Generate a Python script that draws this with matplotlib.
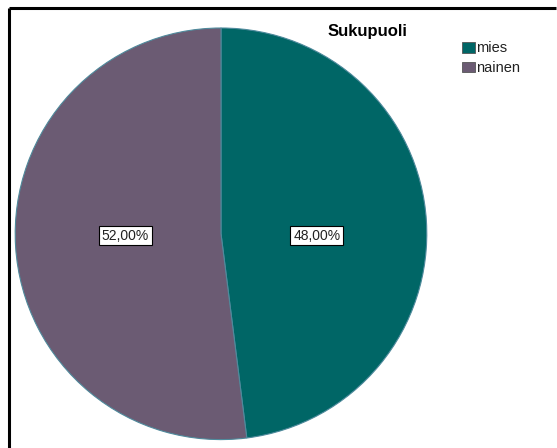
import numpy as np
import matplotlib.pyplot as plt
from matplotlib.patches import Rectangle

# gender split
categories = ['mies', 'nainen']
shares = [48.00, 52.00]
colors = ['#006666', '#6b5b73']
title = 'Sukupuoli'

plt.rcParams['font.family'] = ['Liberation Sans', 'DejaVu Sans']

fig = plt.figure(figsize=(5.57, 4.48), dpi=100)
fig.patch.set_facecolor('white')

# axes in pixel coordinates, y pointing down
ax = fig.add_axes([0, 0, 1, 1])

cx, cy, r = 221, 233.8, 205.8
# y axis is inverted later, so startangle=-90 is the top and
# counterclock=True runs clockwise on screen
wedges, _ = ax.pie(shares, colors=colors, startangle=-90, counterclock=True,
                   center=(cx, cy), radius=r, frame=True,
                   wedgeprops=dict(edgecolor='#4f8a9c', linewidth=0.8))
ax.set_xlim(0, 557)
ax.set_ylim(448, 0)
ax.set_aspect('equal')
ax.axis('off')

# frame: top and left lines only
ax.plot([8.5, 556], [8, 8], color='black', lw=2.2, solid_capstyle='butt')
ax.plot([8.5, 8.5], [8, 448], color='black', lw=2.2, solid_capstyle='butt')

# percentage labels in white boxes
start = 0.0
for val in shares:
    mid = np.deg2rad(90 - (start + val / 2) / 100 * 360)
    x = cx + 0.466 * r * np.cos(mid)
    y = cy + 1.7
    ax.text(x, y, '%s%%' % ('%.2f' % val).replace('.', ','), fontsize=10,
            ha='center', va='center', color='#222222',
            bbox=dict(boxstyle='square,pad=0.2', fc='white', ec='black', lw=0.8))
    start += val

ax.text(367.5, 36, title, fontsize=12, fontweight='bold', ha='center', va='baseline')

# legend
for i, (name, c) in enumerate(zip(categories, colors)):
    ly = 42.3 + i * 19.5
    ax.add_patch(Rectangle((462, ly), 13, 10.3, fc=c, ec='#555555', lw=0.6))
    ax.text(475.7, ly + 10, name, fontsize=10.5, ha='left', va='baseline', color='#222222')

fig.savefig('out.png', dpi=100)
